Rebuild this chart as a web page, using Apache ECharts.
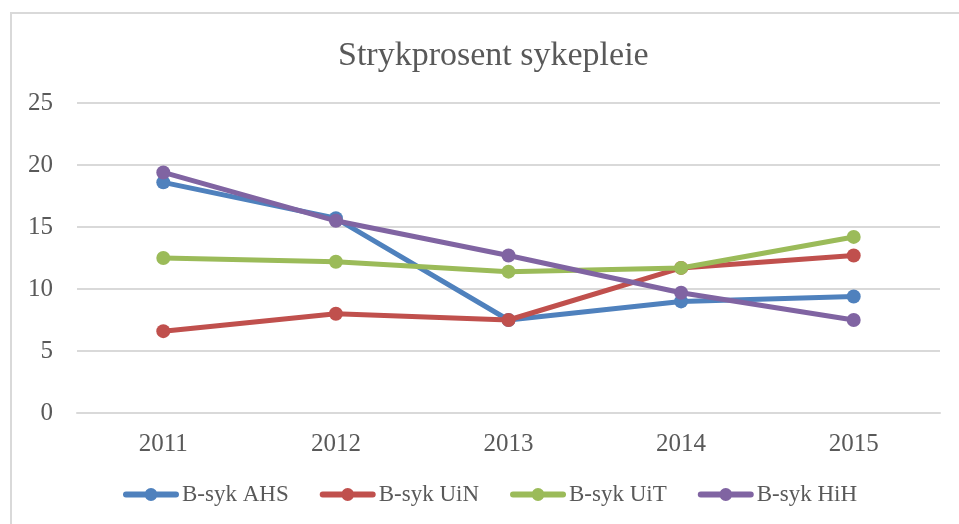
<!DOCTYPE html>
<html>
<head>
<meta charset="utf-8">
<script src="https://cdn.jsdelivr.net/npm/echarts@6/dist/echarts.min.js"></script>
<style>
  html, body { margin: 0; padding: 0; background: #fff; overflow: hidden; }
  #frame { position: absolute; left: 10px; top: 12px; width: 1000px; height: 600px; border: 2px solid #d9d9d9; box-sizing: border-box; }
  #main { position: absolute; left: 0; top: 0; width: 959px; height: 524px; }
</style>
</head>
<body>
<div id="frame"></div>
<div id="main"></div>
<script>
//data
var years = ['2011', '2012', '2013', '2014', '2015'];
var ahs = [18.6, 15.7, 7.5, 9.0, 9.4];
var uin = [6.6, 8.0, 7.5, 11.7, 12.7];
var uit = [12.5, 12.2, 11.4, 11.7, 14.2];
var hih = [19.4, 15.5, 12.7, 9.7, 7.5];
var seriesNames = ['B-syk AHS', 'B-syk UiN', 'B-syk UiT', 'B-syk HiH'];
var seriesColors = ['#4f81bd', '#c0504d', '#9bbb59', '#8064a2'];

var FONT = '"Liberation Serif", "DejaVu Serif", serif';
var TEXT = '#595959';
//legend icon: thick line with a dot in the middle (56 x 13)
var LEGEND_ICON = 'path://M3,3.5 L53,3.5 A3,3 0 0,1 53,9.5 L3,9.5 A3,3 0 0,1 3,3.5 Z M21.5,6.5 A6.5,6.5 0 1,1 34.5,6.5 A6.5,6.5 0 1,1 21.5,6.5 Z';

var chart = echarts.init(document.getElementById('main'), null, {renderer: 'canvas'});

var series = [ahs, uin, uit, hih].map(function(cur, idx) {
	return {
		name: seriesNames[idx],
		type: 'line',
		data: cur,
		symbol: 'circle',
		symbolSize: 14,
		z: 10 + idx,
		lineStyle: { width: 5, color: seriesColors[idx] },
		itemStyle: { color: seriesColors[idx] },
		emphasis: { disabled: true }
	};
});

chart.setOption({
	animation: false,
	title: {
		text: 'Strykprosent sykepleie',
		left: 333,
		top: 34,
		textStyle: { fontFamily: FONT, fontSize: 34, fontWeight: 'normal', color: TEXT }
	},
	legend: {
		data: seriesNames,
		top: 483,
		left: 123,
		padding: 0,
		icon: LEGEND_ICON,
		itemWidth: 56,
		itemHeight: 13,
		itemGap: 31,
		itemStyle: { borderWidth: 0 },
		textStyle: { fontFamily: FONT, fontSize: 23, color: TEXT, padding: [0, 0, 0, -2] }
	},
	grid: {
		left: 77,
		right: 19,
		top: 103,
		bottom: 111,
		containLabel: false
	},
	xAxis: {
		type: 'category',
		data: years,
		boundaryGap: true,
		axisTick: { show: false },
		axisLine: { show: true, lineStyle: { color: '#d9d9d9', width: 2 } },
		axisLabel: { fontFamily: FONT, fontSize: 25, color: TEXT, margin: 19 }
	},
	yAxis: {
		type: 'value',
		min: 0,
		max: 25,
		interval: 5,
		axisLine: { show: false },
		axisTick: { show: false },
		splitLine: { show: true, lineStyle: { color: '#d9d9d9', width: 2 } },
		axisLabel: { fontFamily: FONT, fontSize: 25, color: TEXT, margin: 24 }
	},
	series: series
});
</script>
</body>
</html>
